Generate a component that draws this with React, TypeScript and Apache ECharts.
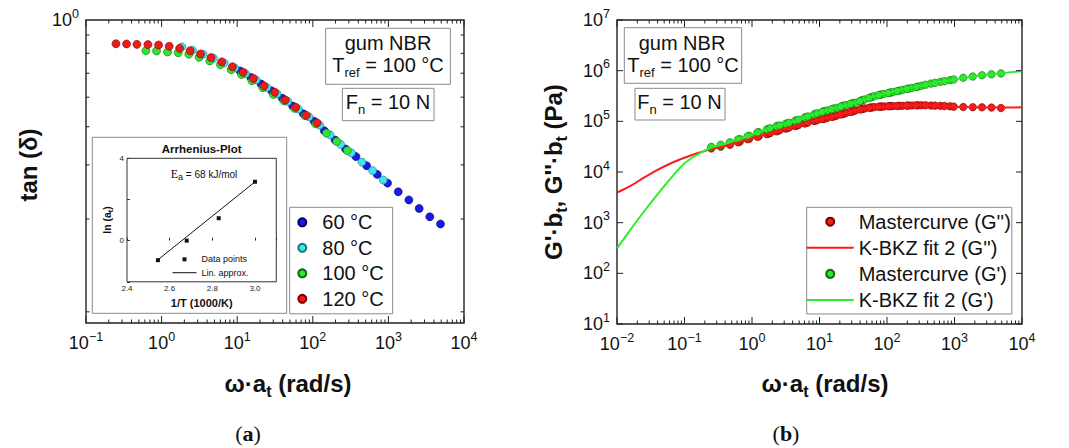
import React, { useEffect, useRef } from 'react';
import * as echarts from 'echarts';

const SANS = '"Liberation Sans", Arial, Helvetica, sans-serif';
const SERIF = '"Liberation Serif", "Times New Roman", serif';

// ---------- (a) tan(delta) vs reduced frequency ----------
const omega60 = [10.9, 15.1, 20.7, 28.6, 39.6, 54.2, 75.0, 104, 142, 197, 272, 372, 515, 712, 975, 1349, 1866, 2553, 3533, 4887];
const omega80 = [1.85, 2.56, 3.54, 4.85, 6.71, 9.29, 12.9, 17.8, 24.6, 33.7, 46.6, 64.4, 89.1, 123, 169, 233, 323, 447, 618, 855];
const omega100 = [0.62, 0.857, 1.2, 1.66, 2.29, 3.14, 4.34, 6.0, 8.31, 11.4, 15.7, 21.8, 30.1, 41.6, 57.6, 78.9, 109, 151, 207, 286];
const omega120 = [0.249, 0.344, 0.471, 0.659, 0.911, 1.26, 1.73, 2.39, 3.27, 4.52, 6.25, 8.65, 12.0, 16.4, 22.7, 31.4, 43.4, 59.4, 82.1, 114];

const tan60 = [0.756, 0.73, 0.704, 0.678, 0.651, 0.624, 0.598, 0.574, 0.545, 0.518, 0.493, 0.473, 0.45, 0.429, 0.409, 0.39, 0.373, 0.356, 0.34, 0.327];
const tan80 = [0.863, 0.847, 0.829, 0.811, 0.79, 0.769, 0.745, 0.72, 0.691, 0.667, 0.64, 0.614, 0.588, 0.562, 0.533, 0.506, 0.483, 0.459, 0.438, 0.416];
const tan100 = [0.845, 0.844, 0.839, 0.836, 0.829, 0.815, 0.799, 0.783, 0.762, 0.742, 0.717, 0.69, 0.665, 0.642, 0.616, 0.592, 0.566, 0.538, 0.514, 0.489];
const tan120 = [0.878, 0.877, 0.875, 0.874, 0.872, 0.866, 0.856, 0.845, 0.83, 0.814, 0.795, 0.774, 0.751, 0.726, 0.697, 0.673, 0.645, 0.62, 0.593, 0.569];

// minor tick values on the tan(delta) axis
const tanMinorTicks = [0.921, 0.833, 0.747, 0.655, 0.557, 0.452, 0.336, 0.202];

// ---------- inset: Arrhenius plot ----------
const arrInvT = [2.545, 2.68, 2.83, 3.0];
const arrLnAt = [-0.95, 0.0, 1.09, 2.86];
const linInvT = [2.545, 3.003];
const linLnAt = [-0.93, 2.88];

// ---------- (b) moduli ----------
const g1_120 = [3.14e4, 3.46e4, 3.86e4, 4.48e4, 5.21e4, 6.12e4, 7.05e4, 8.09e4, 9.06e4, 1.04e5, 1.21e5, 1.4e5, 1.59e5, 1.78e5, 2.03e5, 2.28e5, 2.62e5, 3.01e5, 3.38e5, 3.71e5];
const g2_120 = [2.92e4, 3.16e4, 3.45e4, 3.97e4, 4.54e4, 5.06e4, 5.68e4, 6.46e4, 7.31e4, 8.2e4, 9.23e4, 1.03e5, 1.14e5, 1.26e5, 1.41e5, 1.58e5, 1.76e5, 1.88e5, 1.95e5, 2.0e5];
const g1_100 = [4.37e4, 5.04e4, 6.0e4, 6.92e4, 7.96e4, 8.91e4, 1.02e5, 1.19e5, 1.37e5, 1.56e5, 1.76e5, 2.0e5, 2.24e5, 2.57e5, 2.97e5, 3.33e5, 3.66e5, 4.03e5, 4.42e5, 4.84e5];
const g2_100 = [3.86e4, 4.45e4, 4.97e4, 5.58e4, 6.35e4, 7.19e4, 8.09e4, 9.08e4, 1.02e5, 1.12e5, 1.24e5, 1.39e5, 1.56e5, 1.74e5, 1.87e5, 1.95e5, 1.99e5, 2.02e5, 2.05e5, 2.07e5];
const g1_80 = [7.28e4, 8.3e4, 9.35e4, 1.07e5, 1.25e5, 1.44e5, 1.64e5, 1.84e5, 2.09e5, 2.33e5, 2.7e5, 3.12e5, 3.47e5, 3.79e5, 4.17e5, 4.56e5, 5.04e5, 5.55e5, 6.01e5, 6.5e5];
const g2_80 = [5.85e4, 6.65e4, 7.52e4, 8.41e4, 9.44e4, 1.06e5, 1.17e5, 1.29e5, 1.46e5, 1.63e5, 1.8e5, 1.91e5, 1.97e5, 2.0e5, 2.03e5, 2.06e5, 2.07e5, 2.05e5, 2.02e5, 1.98e5];
const g1_60 = [1.53e5, 1.73e5, 1.95e5, 2.21e5, 2.51e5, 2.89e5, 3.28e5, 3.61e5, 3.95e5, 4.36e5, 4.76e5, 5.27e5, 5.75e5, 6.22e5, 6.7e5, 7.24e5, 7.67e5, 8.11e5, 8.49e5, 8.83e5];
const g2_60 = [1.11e5, 1.23e5, 1.37e5, 1.53e5, 1.71e5, 1.85e5, 1.94e5, 1.99e5, 2.01e5, 2.04e5, 2.07e5, 2.07e5, 2.04e5, 2.01e5, 1.95e5, 1.92e5, 1.9e5, 1.89e5, 1.87e5, 1.83e5];

const fitOmega = [0.01, 0.0158, 0.0251, 0.0398, 0.0631, 0.1, 0.158, 0.251, 0.398, 0.631, 1, 1.58, 2.51, 3.98, 6.31, 10, 15.8, 25.1, 39.8, 63.1, 100, 158, 251, 398, 631, 1000, 1585, 2512, 3981, 6310, 10000];
const fitG2 = [3910, 5320, 7730, 1.1e4, 1.49e4, 1.91e4, 2.37e4, 2.83e4, 3.26e4, 3.87e4, 4.6e4, 5.5e4, 6.61e4, 7.83e4, 9.25e4, 1.08e5, 1.25e5, 1.47e5, 1.71e5, 1.9e5, 1.99e5, 2.02e5, 2.07e5, 2.07e5, 2.02e5, 1.95e5, 1.91e5, 1.89e5, 1.87e5, 1.88e5, 1.89e5];
const fitG1 = [311, 724, 1660, 3630, 7590, 1.48e4, 2.24e4, 3.05e4, 3.61e4, 4.4e4, 5.41e4, 6.79e4, 8.26e4, 9.82e4, 1.22e5, 1.49e5, 1.76e5, 2.1e5, 2.52e5, 3.09e5, 3.63e5, 4.22e5, 4.73e5, 5.35e5, 6.05e5, 6.73e5, 7.45e5, 8.09e5, 8.61e5, 9.18e5, 9.84e5];

const tempNames = ['60 °C', '80 °C', '100 °C', '120 °C'];
const rightNames = ["Mastercurve (G'')", "K-BKZ fit 2 (G'')", "Mastercurve (G')", "K-BKZ fit 2 (G')"];
const inletNames = ['Data points', 'Lin. approx.'];

const zip = (xs: number[], ys: number[]) => xs.map((x, i) => [x, ys[i]]);

const pow10Label = (v: number) => {
  const e = Math.round(Math.log10(v));
  const p = Math.pow(10, e);
  if (Math.abs(v - p) > 1e-6 * p) return '';
  return `{b|10}{s|${e < 0 ? '\u2212' + -e : e}}`;
};

const tickRich = {
  b: { fontFamily: SANS, fontSize: 18, lineHeight: 26, color: '#111' },
  s: { fontFamily: SANS, fontSize: 12.5, lineHeight: 10, verticalAlign: 'top', color: '#111' },
};

function logAxis(gridIndex: number, min: number, max: number, showLabel = true) {
  return {
    gridIndex,
    type: 'log',
    logBase: 10,
    min,
    max,
    axisLine: { show: false },
    axisTick: { show: false },
    minorTick: { show: false },
    splitLine: { show: false },
    axisLabel: {
      show: showLabel,
      formatter: pow10Label,
      rich: tickRich,
      margin: 7,
      showMinLabel: true,
      showMaxLabel: true,
    },
  };
}

function tickSeries(xi: number, yi: number, items: number[][]) {
  return {
    type: 'custom',
    xAxisIndex: xi,
    yAxisIndex: yi,
    silent: true,
    clip: false,
    z: 6,
    data: items,
    renderItem: (params: any, api: any) => {
      const p = api.coord([api.value(0), api.value(1)]);
      return {
        type: 'line',
        shape: { x1: p[0], y1: p[1], x2: p[0] + api.value(2), y2: p[1] + api.value(3) },
        style: { stroke: '#222', lineWidth: 1 },
      };
    },
  };
}

function xTicks(kFrom: number, kTo: number, yBottom: number, yTop: number) {
  const out: number[][] = [];
  for (let k = kFrom; k <= kTo; k++) {
    const v = Math.pow(10, k);
    out.push([v, yBottom, 0, -7], [v, yTop, 0, 7]);
    if (k < kTo) {
      for (let m = 2; m <= 9; m++) {
        out.push([m * v, yBottom, 0, -3.5], [m * v, yTop, 0, 3.5]);
      }
    }
  }
  return out;
}

// legend icons (bounding box fixed by leading move-to points)
const ICON_LINE47 = 'path://M0,0M47,8M0,3L47,3L47,5L0,5Z';
const ICON_LINE24 = 'path://M0,0M24,4M0,1.5L24,1.5L24,2.5L0,2.5Z';
const ICON_SQ24 = 'path://M0,0M24,4M10,0L14,0L14,4L10,4Z';

function buildOption() {
  const leftTicks = xTicks(-1, 4, 0.19, 1);
  tanMinorTicks.forEach((v) => {
    leftTicks.push([0.1, v, 3.5, 0], [1e4, v, -3.5, 0]);
  });
  const rightTicks = xTicks(-2, 4, 10, 1e7);
  for (let k = 1; k <= 7; k++) {
    const v = Math.pow(10, k);
    rightTicks.push([0.01, v, 6, 0], [1e4, v, -6, 0]);
  }

  const dot = (color: string, border: string) => ({ color, borderColor: border, borderWidth: 0.6, opacity: 1 });

  const text = (x: number, y: number, t: string, fontSize: number, extra: any = {}) => ({
    type: 'text',
    x,
    y,
    z: 10,
    ...extra.el,
    style: {
      text: t,
      fontFamily: SANS,
      fontSize,
      fill: '#111',
      align: 'center',
      verticalAlign: 'middle',
      ...extra.style,
    },
  });

  const box = (x: number, y: number, w: number, h: number, stroke = '#8a8a8a') => ({
    type: 'rect',
    z: 9,
    shape: { x, y, width: w, height: h },
    style: { fill: 'none', stroke, lineWidth: 1 },
  });

  const subRich20 = {
    a: { fontFamily: SANS, fontSize: 20, lineHeight: 28, color: '#111' },
    s: { fontFamily: SANS, fontSize: 13, lineHeight: 14, verticalAlign: 'bottom', color: '#111' },
  };
  const titleRich = {
    b: { fontFamily: SANS, fontSize: 24, fontWeight: 'bold', lineHeight: 32, color: '#111' },
    s: { fontFamily: SANS, fontSize: 16, fontWeight: 'bold', lineHeight: 14, verticalAlign: 'bottom', color: '#111' },
  };
  const panelRich = {
    p: { fontFamily: SERIF, fontSize: 22, color: '#111' },
    q: { fontFamily: SERIF, fontSize: 22, fontWeight: 'bold', color: '#111' },
  };

  const graphic: any[] = [
    // (a) axis titles
    text(28, 165, 'tan (δ)', 24, { el: { rotation: Math.PI / 2 }, style: { fontWeight: 'bold' } }),
    text(288, 383, '{b|ω·a}{s|t}{b| (rad/s)}', 24, { style: { rich: titleRich } }),
    text(248, 433, '{p|(}{q|a}{p|)}', 22, { style: { rich: panelRich } }),
    // (a) annotation boxes
    box(325.7, 28.3, 124.6, 56),
    text(388, 43.3, 'gum NBR', 20),
    text(388, 65, '{a|T}{s|ref}{a| = 100 °C}', 20, { style: { rich: subRich20 } }),
    box(342.3, 88.3, 91.7, 32.4),
    text(388, 102, '{a|F}{s|n}{a| = 10 N}', 20, { style: { rich: subRich20 } }),
    // inset
    box(92.3, 137.3, 194.4, 176),
    text(201.7, 149, 'Arrhenius-Plot', 11.5, { style: { fontWeight: 'bold' } }),
    text(201.7, 303.3, '1/T (1000/K)', 11, { style: { fontWeight: 'bold' } }),
    text(107.3, 220, '{b|ln (a}{s|t}{b|)}', 10.5, {
      el: { rotation: Math.PI / 2 },
      style: {
        rich: {
          b: { fontFamily: SANS, fontSize: 10.5, fontWeight: 'bold', lineHeight: 14, color: '#111' },
          s: { fontFamily: SANS, fontSize: 7.5, fontWeight: 'bold', lineHeight: 8, verticalAlign: 'bottom', color: '#111' },
        },
      },
    }),
    text(204, 174, '{e|E}{s|a}{t| = 68 kJ/mol}', 10, {
      style: {
        rich: {
          e: { fontFamily: SERIF, fontSize: 12, lineHeight: 14, color: '#222' },
          s: { fontFamily: SANS, fontSize: 9, lineHeight: 9, verticalAlign: 'bottom', color: '#222' },
          t: { fontFamily: SANS, fontSize: 10, lineHeight: 14, color: '#222' },
        },
      },
    }),
    // (b) axis titles
    text(553, 172, "{b|G'·b}{s|t}{b|, G''·b}{s|t}{b| (Pa)}", 24, {
      el: { rotation: Math.PI / 2 },
      style: { rich: titleRich },
    }),
    text(825, 383, '{b|ω·a}{s|t}{b| (rad/s)}', 24, { style: { rich: titleRich } }),
    text(786, 433, '{p|(}{q|b}{p|)}', 22, { style: { rich: panelRich } }),
    // (b) annotation boxes
    box(624.3, 27.7, 117.4, 55.6),
    text(682, 43.3, 'gum NBR', 20),
    text(683, 65, '{a|T}{s|ref}{a| = 100 °C}', 20, { style: { rich: subRich20 } }),
    box(635, 88.3, 90, 31.7),
    text(679.5, 102, '{a|F}{s|n}{a| = 10 N}', 20, { style: { rich: subRich20 } }),
  ];

  const gridCommon = { show: true, borderColor: '#222', borderWidth: 1.4, backgroundColor: 'transparent', containLabel: false, outerBoundsMode: 'none' };

  return {
    animation: false,
    backgroundColor: '#fff',
    textStyle: { fontFamily: SANS },
    grid: [
      { ...gridCommon, left: 86, top: 20, width: 378, height: 303 },
      { ...gridCommon, left: 617, top: 20, width: 405, height: 304 },
      { ...gridCommon, left: 127, top: 158.3, width: 149.3, height: 123.5, borderColor: '#333', borderWidth: 1 },
    ],
    xAxis: [
      logAxis(0, 0.1, 1e4),
      logAxis(1, 0.01, 1e4),
      {
        gridIndex: 2,
        type: 'value',
        min: 2.4,
        max: 3.1,
        interval: 0.2,
        axisLine: { show: false },
        axisTick: { show: true, inside: true, length: 3, lineStyle: { color: '#333' } },
        splitLine: { show: false },
        axisLabel: {
          fontFamily: SANS,
          fontSize: 8,
          color: '#222',
          margin: 3,
          formatter: (v: number) => (Math.abs(v * 5 - Math.round(v * 5)) < 1e-6 ? v.toFixed(1) : ''),
        },
      },
    ],
    yAxis: [
      logAxis(0, 0.19, 1),
      logAxis(1, 10, 1e7),
      {
        gridIndex: 2,
        type: 'value',
        min: -2,
        max: 4,
        interval: 2,
        axisLine: { show: false },
        axisTick: { show: true, inside: true, length: 3, lineStyle: { color: '#333' } },
        splitLine: { show: false },
        axisLabel: {
          fontFamily: SANS,
          fontSize: 8,
          color: '#222',
          margin: 3,
          formatter: (v: number) => (v === 0 || v === 4 ? String(v) : ''),
        },
      },
    ],
    legend: [
      {
        data: tempNames,
        orient: 'vertical',
        left: 289.7,
        top: 207.3,
        padding: [5, 9, 5, 7.6],
        itemWidth: 30,
        itemHeight: 8,
        itemGap: 5.5,
        borderColor: '#8a8a8a',
        borderWidth: 1,
        borderRadius: 0,
        backgroundColor: '#fff',
        selectedMode: false,
        textStyle: { fontFamily: SANS, fontSize: 20, lineHeight: 20, color: '#111' },
      },
      {
        data: [
          { name: rightNames[0] },
          { name: rightNames[1], icon: ICON_LINE47 },
          { name: rightNames[2] },
          { name: rightNames[3], icon: ICON_LINE47 },
        ],
        orient: 'vertical',
        left: 806.7,
        top: 207.3,
        padding: [4.4, 1, 4, 0],
        itemWidth: 47,
        itemHeight: 8,
        itemGap: 6.1,
        borderColor: '#8a8a8a',
        borderWidth: 1,
        borderRadius: 0,
        backgroundColor: '#fff',
        selectedMode: false,
        textStyle: { fontFamily: SANS, fontSize: 20, lineHeight: 20, color: '#111' },
      },
      {
        data: [
          { name: inletNames[0], icon: ICON_SQ24 },
          { name: inletNames[1], icon: ICON_LINE24 },
        ],
        orient: 'vertical',
        left: 172.5,
        top: 252.6,
        padding: 0,
        itemWidth: 24,
        itemHeight: 4,
        itemGap: 0,
        selectedMode: false,
        textStyle: { fontFamily: SANS, fontSize: 9, lineHeight: 13.4, color: '#111' },
      },
    ],
    series: [
      // (a)
      { type: 'scatter', name: tempNames[0], xAxisIndex: 0, yAxisIndex: 0, data: zip(omega60, tan60), symbol: 'circle', symbolSize: 8, itemStyle: dot('#1a1ae6', '#00005c') },
      { type: 'scatter', name: tempNames[1], xAxisIndex: 0, yAxisIndex: 0, data: zip(omega80, tan80), symbol: 'circle', symbolSize: 8, itemStyle: dot('#3ee6f0', '#127a80') },
      { type: 'scatter', name: tempNames[2], xAxisIndex: 0, yAxisIndex: 0, data: zip(omega100, tan100), symbol: 'circle', symbolSize: 8, itemStyle: dot('#2ee62e', '#0b6b0b') },
      { type: 'scatter', name: tempNames[3], xAxisIndex: 0, yAxisIndex: 0, data: zip(omega120, tan120), symbol: 'circle', symbolSize: 8, itemStyle: dot('#ee1b1b', '#7a0000') },
      tickSeries(0, 0, leftTicks),
      // inset
      { type: 'line', name: inletNames[1], xAxisIndex: 2, yAxisIndex: 2, data: zip(linInvT, linLnAt), symbol: 'none', lineStyle: { color: '#111', width: 1 }, itemStyle: { color: '#111' } },
      { type: 'scatter', name: inletNames[0], xAxisIndex: 2, yAxisIndex: 2, data: zip(arrInvT, arrLnAt), symbol: 'rect', symbolSize: 4, itemStyle: { color: '#111', opacity: 1 } },
      // (b)
      { type: 'line', name: rightNames[1], xAxisIndex: 1, yAxisIndex: 1, data: zip(fitOmega, fitG2), symbol: 'none', smooth: 0.2, lineStyle: { color: '#ff1a1a', width: 2 }, itemStyle: { color: '#ff1a1a' } },
      { type: 'line', name: rightNames[3], xAxisIndex: 1, yAxisIndex: 1, data: zip(fitOmega, fitG1), symbol: 'none', smooth: 0.2, lineStyle: { color: '#2aee2a', width: 2 }, itemStyle: { color: '#2aee2a' } },
      {
        type: 'scatter', name: rightNames[0], xAxisIndex: 1, yAxisIndex: 1, symbol: 'circle', symbolSize: 7.5, itemStyle: dot('#ee1b1b', '#7a0000'),
        data: [...zip(omega120, g2_120), ...zip(omega100, g2_100), ...zip(omega80, g2_80), ...zip(omega60, g2_60)],
      },
      {
        type: 'scatter', name: rightNames[2], xAxisIndex: 1, yAxisIndex: 1, symbol: 'circle', symbolSize: 7.5, itemStyle: dot('#2ee62e', '#0b6b0b'),
        data: [...zip(omega120, g1_120), ...zip(omega100, g1_100), ...zip(omega80, g1_80), ...zip(omega60, g1_60)],
      },
      tickSeries(1, 1, rightTicks),
    ],
    graphic,
  };
}

export default function App() {
  const ref = useRef<HTMLDivElement>(null);
  useEffect(() => {
    document.body.style.margin = '0';
    const chart = echarts.init(ref.current!, null, { renderer: 'svg' });
    chart.setOption(buildOption() as any);
    return () => chart.dispose();
  }, []);
  return <div ref={ref} style={{ width: 1069, height: 448 }} />;
}
